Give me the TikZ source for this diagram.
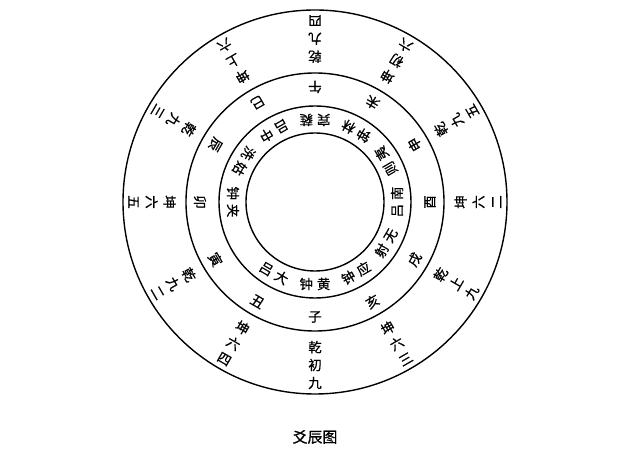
\documentclass[tikz,border=0pt]{standalone}
\usepackage{fontspec}
\newfontfamily\cjk[FakeBold=0.6]{Noto Sans CJK SC}
\tikzset{
  yao/.style={font=\cjk\fontsize{13.5}{18}\selectfont, align=center, inner sep=0pt},
  zhi/.style={font=\cjk\fontsize{13.5}{15}\selectfont, inner sep=0pt},
  lv/.style={font=\cjk\fontsize{13.5}{15}\selectfont, inner sep=0pt},
}
\begin{document}
\begin{tikzpicture}[x=1bp,y=1bp,line width=1.4bp]
	\useasboundingbox (-315,-248) rectangle (325,202);
	\coordinate (o) at (0,0);
	\draw (o) circle (192);
	\draw (o) circle (129);
	\draw (o) circle (96);
	\draw (o) circle (69);
	% yao lines, outer ring
	\foreach \a/\t [count=\i] in {270/{乾\\初\\九}, 240/{坤\\六\\四}, 210/{乾\\九\\二}, 180/{坤\\六\\五},
		150/{乾\\九\\三}, 120/{坤\\上\\六}, 90/{乾\\九\\四}, 60/{坤\\初\\六},
		30/{乾\\九\\五}, 0/{坤\\六\\二}, 330/{乾\\上\\九}, 300/{坤\\六\\三}}
		\node[yao, rotate=\a+90] (yao\i) at (\a:163) {\t};
	% branches
	\foreach \a/\t [count=\i] in {270/子, 240/丑, 210/寅, 180/卯, 150/辰, 120/巳,
		90/午, 60/未, 30/申, 0/酉, 330/戌, 300/亥}
		\node[zhi, rotate=\a+90] (zhi\i) at (\a:115) {\t};
	% pitch pipes, inner ring
	\foreach \a/\p/\q [count=\i] in {270/钟/黄, 240/吕/大, 180/钟/夹, 150/洗/姑, 120/吕/中,
		90/宾/蕤, 60/钟/林, 30/则/夷, 0/吕/南, 330/射/无, 300/钟/应}
		\node[lv, rotate=\a+90] (lv\i) at (\a:82) {\p\kern4bp\q};
	\node[font=\cjk\fontsize{15}{18}\selectfont] (title) at (0,-235) {爻辰图};
\end{tikzpicture}
\end{document}
